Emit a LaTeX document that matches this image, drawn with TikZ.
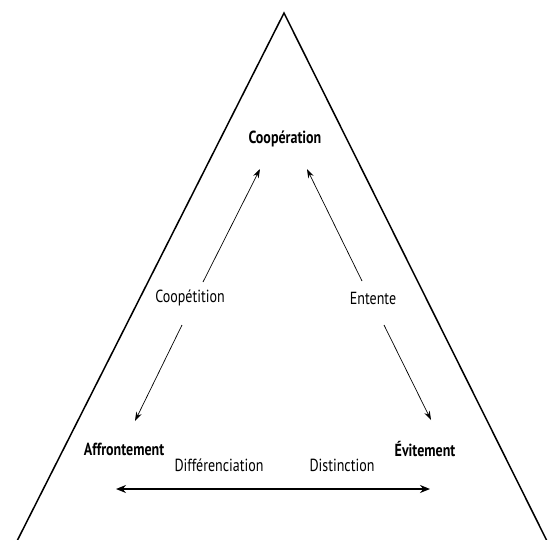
\documentclass[tikz,border=0pt]{standalone}
\usepackage{fontspec}
\setmainfont{PT Sans}[FakeStretch=0.8]
\usetikzlibrary{arrows.meta}
\begin{document}
\begin{tikzpicture}[x=1pt,y=-1pt,
  lbl/.style={inner sep=0pt,font=\fontsize{17.5}{19}\selectfont},
  title/.style={inner sep=0pt,font=\fontsize{17.5}{19}\selectfont\bfseries},
  thin arrow/.style={line width=0.7pt,-{Stealth[length=9pt,width=6pt]}},
  frame/.style={line width=1.5pt}]
\useasboundingbox (0,0) rectangle (555,539);
\coordinate (apex) at (284,13);
\coordinate (bl) at (15,545);
\coordinate (br) at (549,545);
\draw[frame] (bl) -- (apex) -- (br);
\node[title] (coop) at (285,139) {Coopération};
\node[title] (aff) at (124,449) {Affrontement};
\node[title] (evit) at (425,449) {Évitement};
\node[lbl] (coopet) at (190,298) {Coopétition};
\node[lbl] (ent) at (373,298) {Entente};
\node[lbl] (diff) at (219,465) {Différenciation};
\node[lbl] (dist) at (342,465) {Distinction};
\coordinate (a1s) at (203,282);
\coordinate (a1e) at (260,169);
\coordinate (a2s) at (182,325);
\coordinate (a2e) at (135,421);
\coordinate (b1s) at (362,281);
\coordinate (b1e) at (307,169);
\coordinate (b2s) at (384,325);
\coordinate (b2e) at (431,420);
\coordinate (h1) at (116,489);
\coordinate (h2) at (430,489);
\draw[thin arrow] (a1s) -- (a1e);
\draw[thin arrow] (a2s) -- (a2e);
\draw[thin arrow] (b1s) -- (b1e);
\draw[thin arrow] (b2s) -- (b2e);
\draw[line width=1.4pt,{Stealth[length=10pt,width=8pt]}-{Stealth[length=10pt,width=8pt]}] (h1) -- (h2);
\end{tikzpicture}
\end{document}
